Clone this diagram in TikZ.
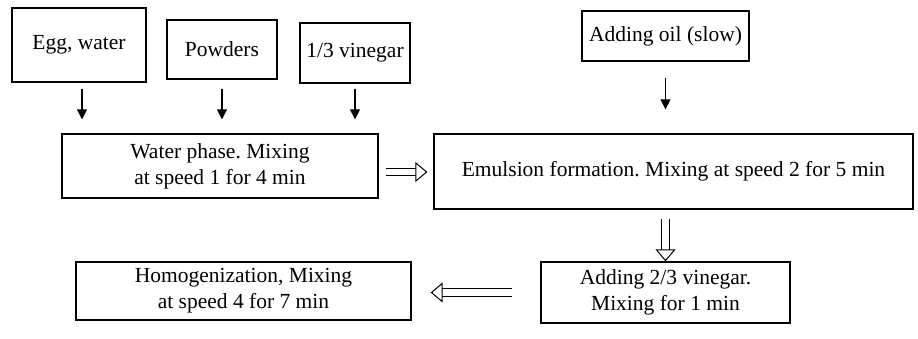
\documentclass[tikz,border=0pt]{standalone}
\usepackage{fontspec}
\setmainfont{Liberation Serif}
\usetikzlibrary{arrows.meta}
\frenchspacing

\begin{document}
\begin{tikzpicture}[x=1pt,y=-1pt,
        box/.style={draw, line width=1.3pt, align=center, inner sep=0pt, font=\fontsize{21.5}{26}\selectfont},
        thinarrow/.style={-{Triangle[length=10pt,width=10pt]}, line width=1.2pt},
        hollowarrow/.style={double, double distance=6.5pt, line width=1pt, -{Triangle[open,length=12pt,width=20pt]}}]
        \useasboundingbox (0,0) rectangle (918,338);
        % ingredient boxes
        \node[box, minimum width=134pt, minimum height=74pt] (egg) at (79,45) {Egg, water};
        \node[box, minimum width=110pt, minimum height=59pt] (powders) at (222,49.5) {Powders};
        \node[box, minimum width=110pt, minimum height=60pt] (vinegarA) at (355,53) {1/3 vinegar};
        \node[box, minimum width=167pt, minimum height=50pt] (oil) at (665.5,36) {Adding oil (slow)};
        % process steps
        \node[box, minimum width=316pt, minimum height=64pt] (water) at (220,166) {Water phase. Mixing\\at speed 1 for 4 min};
        \node[box, minimum width=479pt, minimum height=75pt] (emulsion) at (673.5,171.5) {Emulsion formation. Mixing at speed 2 for 5 min};
        \node[box, minimum width=249pt, minimum height=61pt] (vinegarB) at (665.5,292.5) {Adding 2/3 vinegar.\\Mixing for 1 min};
        \node[box, minimum width=335pt, minimum height=58pt] (homog) at (243.5,291) {Homogenization, Mixing\\at speed 4 for 7 min};
        % feeding arrows
        \draw[thinarrow, shorten <=6pt, shorten >=14pt] ([xshift=3pt]egg.south) -- ([xshift=3pt]egg.south |- water.north);
        \draw[thinarrow, shorten <=9pt, shorten >=14pt] (powders.south) -- (powders.south |- water.north);
        \draw[thinarrow, shorten <=5pt, shorten >=14pt] (vinegarA.south) -- (vinegarA.south |- water.north);
        \draw[thinarrow, shorten <=16pt, shorten >=24pt] (oil.south) -- (oil.south |- emulsion.north);
        % flow arrows
        \draw[hollowarrow, shorten <=7pt, shorten >=6pt] ([yshift=-6pt]water.east) -- ([yshift=-6pt]water.east -| emulsion.west);
        \draw[hollowarrow, shorten <=9pt] (vinegarB.north |- emulsion.south) -- (vinegarB.north);
        \draw[hollowarrow, shorten <=28pt, shorten >=19pt] (vinegarB.west) -- (vinegarB.west -| homog.east);
\end{tikzpicture}
\end{document}
